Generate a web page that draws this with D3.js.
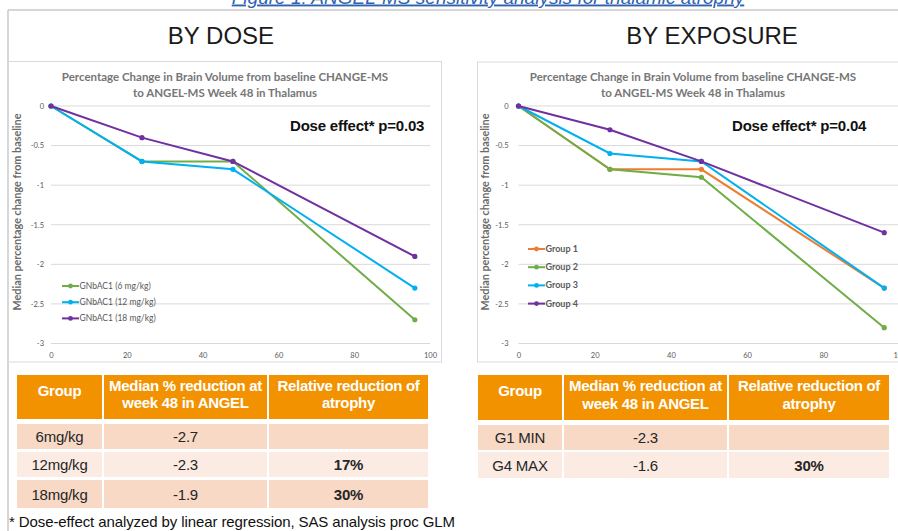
<!DOCTYPE html>
<html><head><meta charset="utf-8">
<script src="https://cdn.jsdelivr.net/npm/d3@7"></script>
<style>
html,body{margin:0;padding:0;background:#fff;}
svg{display:block;}
</style></head>
<body>
<svg id="c" width="898" height="531"></svg>
<script>
// ---------- DATA ----------
const weeks = [0, 24, 48, 96];
const xTicks = [0, 20, 40, 60, 80, 100];
const yTicks = [0, -0.5, -1, -1.5, -2, -2.5, -3];

const doseNames = ["GNbAC1 (6 mg/kg)", "GNbAC1 (12 mg/kg)", "GNbAC1 (18 mg/kg)"];
const dose6  = [0, -0.7, -0.7, -2.7];
const dose12 = [0, -0.7, -0.8, -2.3];
const dose18 = [0, -0.4, -0.7, -1.9];
const doseColors = ["#70AD47", "#00B0F0", "#7030A0"];

const expNames = ["Group 1", "Group 2", "Group 3", "Group 4"];
const group1 = [0, -0.8, -0.8, -2.3];
const group2 = [0, -0.8, -0.9, -2.8];
const group3 = [0, -0.6, -0.7, -2.3];
const group4 = [0, -0.3, -0.7, -1.6];
const expColors = ["#ED7D31", "#70AD47", "#00B0F0", "#7030A0"];

const chartTitle = ["Percentage Change in Brain Volume from baseline CHANGE-MS", "to ANGEL-MS Week 48 in Thalamus"];
const yTitle = "Median percentage change from baseline";

const tableHeader = [["Group"], ["Median % reduction at", "week 48 in ANGEL"], ["Relative reduction of", "atrophy"]];
const doseTableGroups = ["6mg/kg", "12mg/kg", "18mg/kg"];
const doseTableMedian = ["-2.7", "-2.3", "-1.9"];
const doseTableRel = ["", "17%", "30%"];
const expTableGroups = ["G1 MIN", "G4 MAX"];
const expTableMedian = ["-2.3", "-1.6"];
const expTableRel = ["", "30%"];

// ---------- DRAW ----------
const svg = d3.select("#c");
svg.append("rect").attr("width", 898).attr("height", 531).attr("fill", "#fff");

// caption (cut at top)
svg.append("text").attr("x", 488).attr("y", 3.5).attr("text-anchor", "middle")
  .attr("font-family", "Liberation Sans, Arial, sans-serif").attr("font-size", 19)
  .attr("font-style", "italic").attr("text-decoration", "underline").attr("fill", "#2f62b0")
  .text("Figure 1: ANGEL-MS sensitivity analysis for thalamic atrophy");

// outer frame
svg.append("line").attr("x1", 8).attr("x2", 8).attr("y1", 10).attr("y2", 531).attr("stroke", "#c8c8c8").attr("stroke-width", 1.5);
svg.append("line").attr("x1", 8).attr("x2", 898).attr("y1", 10).attr("y2", 10).attr("stroke", "#c8c8c8").attr("stroke-width", 1.5);

const headFont = "Liberation Sans, Arial, sans-serif";
svg.append("text").attr("x", 221).attr("y", 44).attr("text-anchor", "middle").attr("font-family", headFont)
  .attr("font-size", 24).attr("fill", "#1a1a1a").text("BY DOSE");
svg.append("text").attr("x", 712).attr("y", 44).attr("text-anchor", "middle").attr("font-family", headFont)
  .attr("font-size", 24).attr("fill", "#1a1a1a").text("BY EXPOSURE");

function drawChart(cfg) {
  const g = svg.append("g");
  g.append("rect").attr("x", cfg.box[0]).attr("y", cfg.box[1]).attr("width", cfg.box[2]).attr("height", cfg.box[3])
    .attr("fill", "none").attr("stroke", "#d9d9d9").attr("stroke-width", 1);
  const x = d3.scaleLinear().domain([0, 100]).range(cfg.xr);
  const y = d3.scaleLinear().domain([-3, 0]).range([343.5, 106]);
  g.append("g").selectAll("line").data(yTicks).join("line")
    .attr("x1", cfg.xr[0]).attr("x2", Math.min(cfg.xr[1], 898)).attr("y1", d => y(d)).attr("y2", d => y(d))
    .attr("stroke", "#d9d9d9").attr("stroke-width", 1);
  const fmt = d => String(d);
  const ya = g.append("g").attr("transform", `translate(${cfg.xr[0]},0)`)
    .call(d3.axisLeft(y).tickValues(yTicks).tickSize(0).tickPadding(cfg.ypad).tickFormat(fmt));
  const xa = g.append("g").attr("transform", `translate(0,343.5)`)
    .call(d3.axisBottom(x).tickValues(xTicks).tickSize(0).tickPadding(9).tickFormat(fmt));
  [ya, xa].forEach(a => {
    a.select(".domain").remove();
    a.selectAll("text").attr("font-family", "Lato, sans-serif").attr("font-size", 7.5).attr("fill", "#595959");
  });
  chartTitle.forEach((t, i) => {
    g.append("text").attr("x", cfg.tx).attr("y", 81 + i * 16).attr("text-anchor", "middle")
      .attr("font-family", "Lato, sans-serif").attr("font-weight", 700).attr("font-size", 11.5)
      .attr("fill", "#767676").text(t);
  });
  g.append("text").attr("transform", `translate(${cfg.yt},212) rotate(-90)`).attr("text-anchor", "middle")
    .attr("font-family", "Lato, sans-serif").attr("font-weight", 700).attr("font-size", 10.8)
    .attr("fill", "#6b6b6b").text(yTitle);
  const line = d3.line().x((d, i) => x(weeks[i])).y(d => y(d));
  cfg.series.forEach((s, k) => {
    g.append("path").datum(s).attr("d", line).attr("fill", "none").attr("stroke", cfg.colors[k]).attr("stroke-width", 2);
    g.append("g").selectAll("circle").data(s).join("circle")
      .attr("cx", (d, i) => x(weeks[i])).attr("cy", d => y(d)).attr("r", 2.6).attr("fill", cfg.colors[k]);
  });
  cfg.names.forEach((n, k) => {
    const ly = cfg.ly + k * cfg.lstep;
    g.append("line").attr("x1", cfg.lx).attr("x2", cfg.lx + 17).attr("y1", ly).attr("y2", ly)
      .attr("stroke", cfg.colors[k]).attr("stroke-width", 2);
    g.append("circle").attr("cx", cfg.lx + 8.5).attr("cy", ly).attr("r", 2.4).attr("fill", cfg.colors[k]);
    g.append("text").attr("x", cfg.lx + 17.5).attr("y", ly + 3).attr("font-family", "Lato, sans-serif")
      .attr("font-size", cfg.lfs).attr("font-weight", cfg.lfw).attr("fill", "#595959").text(n);
  });
  g.append("text").attr("x", cfg.ax).attr("y", 130.5).attr("font-family", headFont).attr("font-weight", 700)
    .attr("font-size", 15).attr("fill", "#111").attr("letter-spacing", -0.2).text(cfg.ann);
}

drawChart({box: [8, 61.5, 433.5, 300.5], xr: [51, 430], ypad: 7, tx: 225, yt: 21,
  series: [dose6, dose12, dose18], colors: doseColors, names: doseNames,
  lx: 62, ly: 286, lstep: 16.2, lfs: 8.5, lfw: 400, ax: 290, ann: "Dose effect* p=0.03"});
drawChart({box: [477.5, 62, 430, 300], xr: [518.5, 899.5], ypad: 10, tx: 693, yt: 489,
  series: [group1, group2, group3, group4], colors: expColors, names: expNames,
  lx: 528, ly: 249, lstep: 18.2, lfs: 9, lfw: 700, ax: 732, ann: "Dose effect* p=0.04"});

function drawTable(cols, headY, rowsY, groups, med, rel) {
  const g = svg.append("g");
  const tf = "Liberation Sans, Arial, sans-serif";
  cols.forEach((c, j) => {
    g.append("rect").attr("x", c[0]).attr("y", headY[0]).attr("width", c[1] - c[0]).attr("height", headY[1] - headY[0]).attr("fill", "#F29200");
    const lines = tableHeader[j];
    const cy = (headY[0] + headY[1]) / 2;
    lines.forEach((t, i) => {
      const ty = lines.length === 1 ? cy - 7 : cy - 12 + i * 17.5;
      g.append("text").attr("x", (c[0] + c[1]) / 2).attr("y", ty + 5.5).attr("text-anchor", "middle")
        .attr("font-family", tf).attr("font-weight", 700).attr("font-size", 15).attr("fill", "#fff")
        .attr("letter-spacing", -0.3).text(t);
    });
  });
  const rowFill = ["#F8D9C6", "#FCEBE2", "#F8D9C6"];
  groups.forEach((gr, r) => {
    const ry = rowsY[r];
    const vals = [gr, med[r], rel[r]];
    cols.forEach((c, j) => {
      g.append("rect").attr("x", c[0]).attr("y", ry[0]).attr("width", c[1] - c[0]).attr("height", ry[1] - ry[0]).attr("fill", rowFill[r]);
      g.append("text").attr("x", (c[0] + c[1]) / 2).attr("y", (ry[0] + ry[1]) / 2 + 5.5).attr("text-anchor", "middle")
        .attr("font-family", tf).attr("font-size", 15).attr("font-weight", j === 2 ? 700 : 400)
        .attr("fill", "#262626").attr("letter-spacing", -0.2).text(vals[j]);
    });
  });
}
drawTable([[17, 102], [104, 267], [269, 428]], [375, 419], [[424, 449], [452, 477], [480, 508]],
  doseTableGroups, doseTableMedian, doseTableRel);
drawTable([[478, 562], [564, 727], [729, 889]], [375, 420], [[425, 450], [452, 478]],
  expTableGroups, expTableMedian, expTableRel);

svg.append("text").attr("x", 9).attr("y", 527).attr("font-family", "Liberation Sans, Arial, sans-serif")
  .attr("font-size", 15).attr("fill", "#111").attr("letter-spacing", -0.1)
  .text("* Dose-effect analyzed by linear regression, SAS analysis proc GLM");
</script>
</body></html>
